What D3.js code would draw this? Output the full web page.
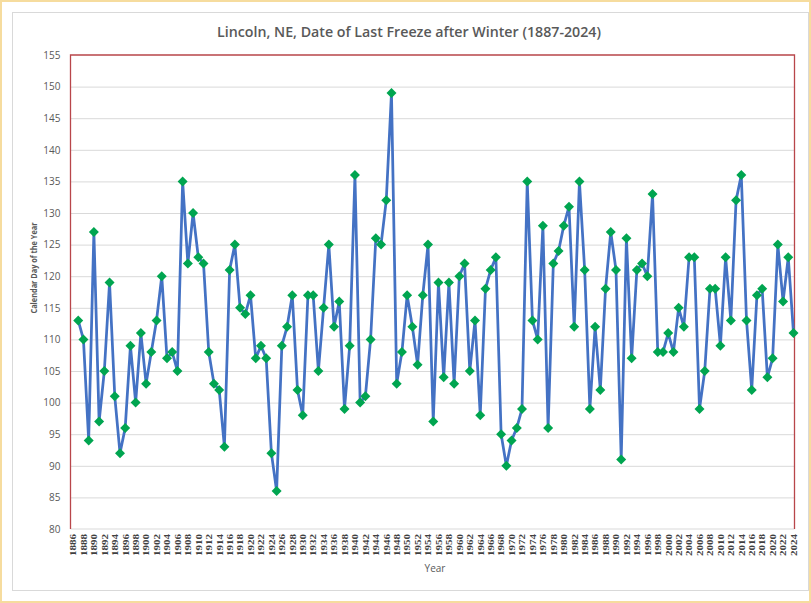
<!DOCTYPE html>
<html>
<head>
<meta charset="utf-8">
<script src="https://cdn.jsdelivr.net/npm/d3@7"></script>
<style>
  html, body { margin: 0; padding: 0; background: #fff; }
  svg { display: block; }
</style>
</head>
<body>
<script>
// ---- Data ----
const titleText = "Lincoln, NE, Date of Last Freeze after Winter (1887-2024)";
const yAxisTitle = "Calendar Day of the Year";
const xAxisTitle = "Year";
const firstYear = 1887;
const freezeDay = [
  113,110,94,127,97,105,119,101,92,96,
  109,100,111,103,108,113,120,107,108,105,
  135,122,130,123,122,108,103,102,93,121,
  125,115,114,117,107,109,107,92,86,109,
  112,117,102,98,117,117,105,115,125,112,
  116,99,109,136,100,101,110,126,125,132,
  149,103,108,117,112,106,117,125,97,119,
  104,119,103,120,122,105,113,98,118,121,
  123,95,90,94,96,99,135,113,110,128,
  96,122,124,128,131,112,135,121,99,112,
  102,118,127,121,91,126,107,121,122,120,
  133,108,108,111,108,115,112,123,123,99,
  105,118,118,109,123,113,132,136,113,102,
  117,118,104,107,125,116,123,111
];
const yTicks = [80,85,90,95,100,105,110,115,120,125,130,135,140,145,150,155];
const xTickYears = d3.range(1886, 2025, 2);

const points = freezeDay.map((v, i) => ({ year: firstYear + i, value: v }));

// ---- Layout ----
const W = 811, H = 603;
const plot = { left: 70.5, right: 794.5, top: 55, bottom: 529 };

const svg = d3.select("body").append("svg").attr("width", W).attr("height", H);

// outer frames
svg.append("rect").attr("x", 1).attr("y", 1).attr("width", W - 2).attr("height", H - 2)
  .attr("fill", "#fff").attr("stroke", "#f6dc9e").attr("stroke-width", 2);
svg.append("rect").attr("x", 12.5).attr("y", 12.5).attr("width", 796).attr("height", 578)
  .attr("fill", "#fff").attr("stroke", "#d9d9d9").attr("stroke-width", 1);

const x = d3.scaleLinear().domain([1886, 2024]).range([73, 793.5]);
const y = d3.scaleLinear().domain([80, 155]).range([plot.bottom, plot.top]);

// gridlines
const gy = d3.axisLeft(y).tickValues(yTicks.filter(t => t > 80 && t < 155))
  .tickSize(-(plot.right - plot.left)).tickFormat("");
const gridG = svg.append("g").attr("transform", `translate(${plot.left},0)`).call(gy);
gridG.select(".domain").remove();
gridG.selectAll("line").attr("stroke", "#d9d9d9").attr("stroke-width", 1);

// bottom axis line
svg.append("line").attr("x1", plot.left).attr("x2", plot.right)
  .attr("y1", plot.bottom).attr("y2", plot.bottom)
  .attr("stroke", "#d9d9d9").attr("stroke-width", 1);

// plot border (red) top, left, right
svg.append("path")
  .attr("d", `M${plot.left},${plot.bottom} L${plot.left},${plot.top} L${plot.right},${plot.top} L${plot.right},${plot.bottom}`)
  .attr("fill", "none").attr("stroke", "#b8464a").attr("stroke-width", 1.3);

// y axis labels
const ya = d3.axisLeft(y).tickValues(yTicks).tickSize(0).tickPadding(10);
const yG = svg.append("g").attr("transform", `translate(${plot.left},0)`).call(ya);
yG.select(".domain").remove();
yG.selectAll("text").attr("fill", "#595959")
  .style("font-family", "'Open Sans', 'Noto Sans', sans-serif").style("font-size", "10px");

// x axis labels (rotated)
const xa = d3.axisBottom(x).tickValues(xTickYears).tickSize(0).tickFormat(d3.format("d"));
const xG = svg.append("g").attr("transform", `translate(0,${plot.bottom})`).call(xa);
xG.select(".domain").remove();
xG.selectAll("text")
  .attr("transform", "rotate(-90)")
  .attr("text-anchor", "end")
  .attr("x", -5).attr("y", 0).attr("dy", "0.33em")
  .attr("textLength", 22).attr("lengthAdjust", "spacingAndGlyphs")
  .attr("fill", "#404040")
  .style("font-family", "'Liberation Serif', 'DejaVu Serif', serif")
  .style("font-weight", "bold").style("font-size", "8.5px");

// line
const line = d3.line().x(d => x(d.year)).y(d => y(d.value));
svg.append("path").datum(points).attr("d", line)
  .attr("fill", "none").attr("stroke", "#4472c4").attr("stroke-width", 2.75)
  .attr("stroke-linejoin", "round");

// diamond markers
const r = 5;
svg.append("g").selectAll("path").data(points).join("path")
  .attr("d", `M0,${-r}L${r},0L0,${r}L${-r},0Z`)
  .attr("transform", d => `translate(${x(d.year)},${y(d.value)})`)
  .attr("fill", "#00a550");

// title
svg.append("text").attr("x", 409).attr("y", 37).attr("text-anchor", "middle")
  .attr("textLength", 384).attr("lengthAdjust", "spacingAndGlyphs")
  .attr("fill", "#595959")
  .style("font-family", "'Open Sans', 'Noto Sans', sans-serif")
  .style("font-size", "14.5px").style("font-weight", "600")
  .text(titleText);

// y axis title
svg.append("text").attr("transform", "translate(37,268) rotate(-90)")
  .attr("text-anchor", "middle")
  .attr("textLength", 91).attr("lengthAdjust", "spacingAndGlyphs")
  .attr("fill", "#595959")
  .style("font-family", "'Open Sans', 'Noto Sans', sans-serif")
  .style("font-size", "9.5px").style("font-weight", "bold")
  .text(yAxisTitle);

// x axis title
svg.append("text").attr("x", 435).attr("y", 572).attr("text-anchor", "middle")
  .attr("fill", "#595959")
  .style("font-family", "'Open Sans', 'Noto Sans', sans-serif")
  .style("font-size", "10px")
  .text(xAxisTitle);
</script>
</body>
</html>
